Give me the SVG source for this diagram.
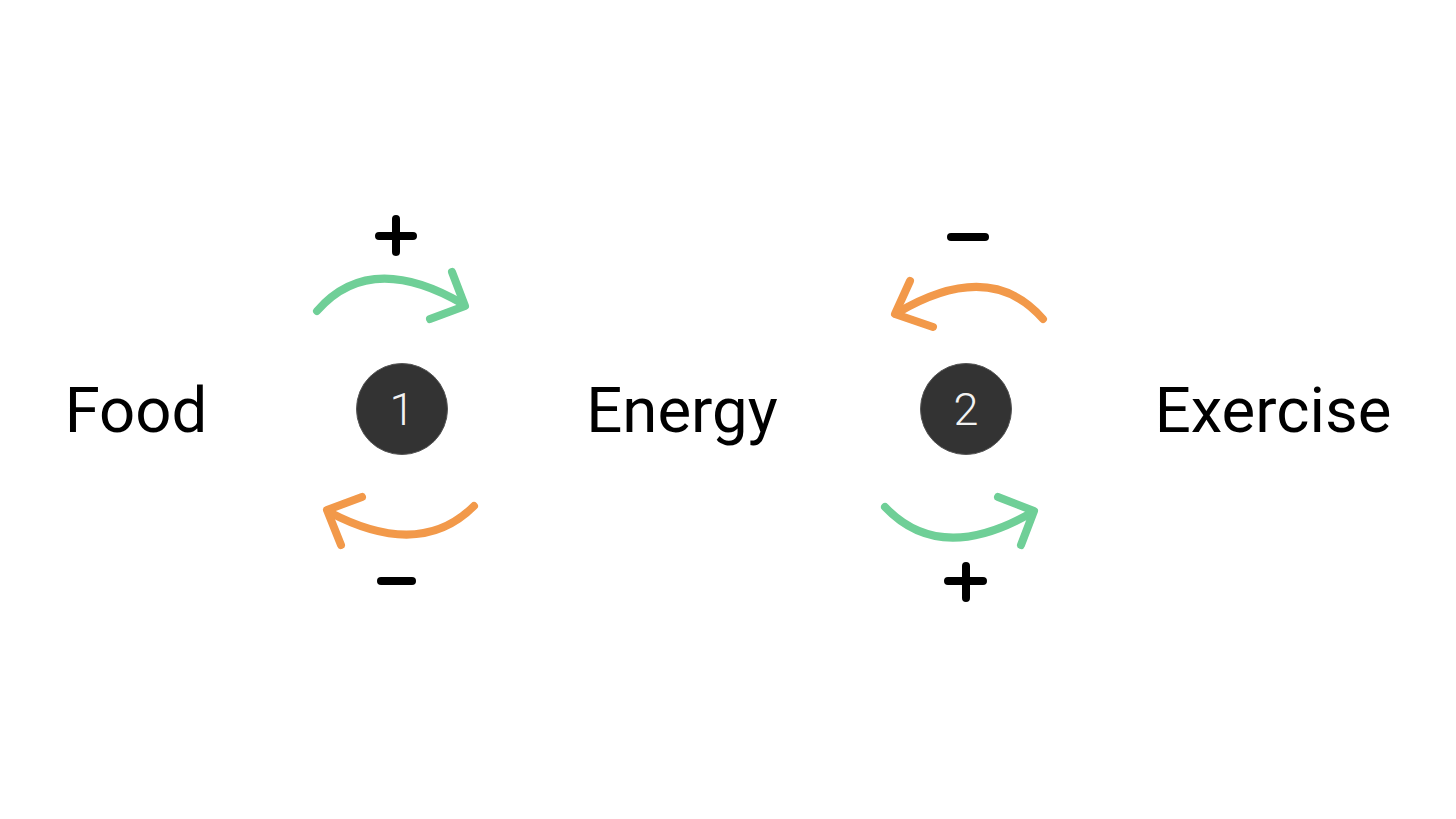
<svg xmlns="http://www.w3.org/2000/svg" width="1456" height="819" viewBox="0 0 1456 819">
<style>
.lbl{font-family:Roboto,"Liberation Sans",sans-serif;font-size:63.5px;fill:#000;text-anchor:middle}
.num{font-family:Roboto,"Liberation Sans",sans-serif;font-weight:300;font-size:45px;fill:#f2f2f2;text-anchor:middle}
.badge{fill:#333;stroke:#555;stroke-width:1}
.arc{fill:none;stroke-width:8;stroke-linecap:round;stroke-linejoin:round}
.g{stroke:#6fcf97}
.o{stroke:#f2994a}
.sign{fill:none;stroke:#000;stroke-width:8;stroke-linecap:round}
</style>
<rect width="1456" height="819" fill="#fff"/>
<g id="food"><text class="lbl" x="136" y="432">Food</text></g>
<g id="energy"><text class="lbl" x="682" y="432">Energy</text></g>
<g id="exercise"><text class="lbl" x="1273" y="432">Exercise</text></g>
<g id="loop1"><circle class="badge" cx="402" cy="409" r="45.5"/><text class="num" x="402" y="425">1</text></g>
<g id="loop2"><circle class="badge" cx="966" cy="409" r="45.5"/><text class="num" x="966" y="425">2</text></g>
<g id="connectors">
<path class="arc g" d="M317 311 Q370 250 463 304"/>
<polyline class="arc g" points="452,272 465,306 430,319"/>
<path class="arc o" d="M474 506 Q420 560 329 512"/>
<polyline class="arc o" points="362,497 327,510 341,545"/>
<path class="arc o" d="M1043 319 Q990 258 897 313"/>
<polyline class="arc o" points="910,281 895,314 933,327"/>
<path class="arc g" d="M885 507 Q940 565 1031 513"/>
<polyline class="arc g" points="998,497 1034,511 1021,545"/>
</g>
<g id="signs">
<path class="sign" d="M396 219V252M379 236H413"/>
<path class="sign" d="M381 581H412"/>
<path class="sign" d="M951 237H985"/>
<path class="sign" d="M966 566V598M948 581H983"/>
</g>
</svg>
